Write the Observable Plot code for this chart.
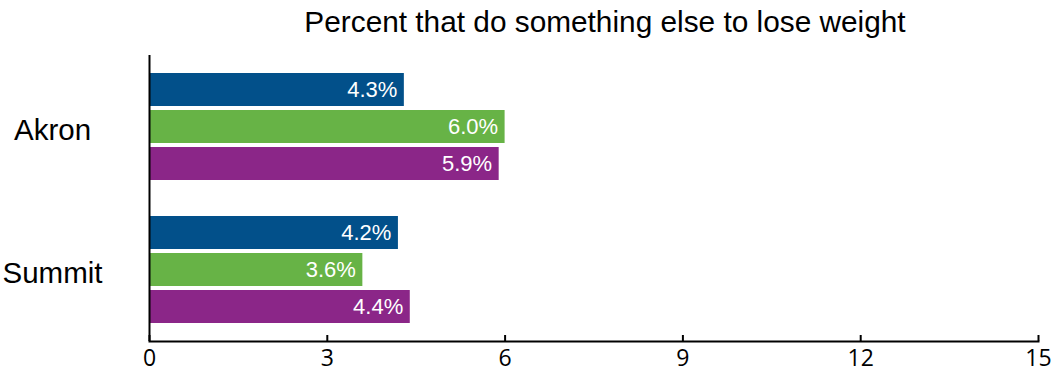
<!DOCTYPE html>
<html>
<head>
<meta charset="utf-8">
<script src="https://cdn.jsdelivr.net/npm/d3@7"></script>
<script src="https://cdn.jsdelivr.net/npm/@observablehq/plot@0.6"></script>
<style>
  body { margin: 0; background: #fff; }
  #title { width: 1057px; box-sizing: border-box; padding-left: 153px; text-align: center;
           font-family: "Liberation Sans", Arial, sans-serif; font-size: 29.8px; line-height: 34px;
           padding-top: 5px; height: 39px; color: #000; }
</style>
</head>
<body>
<div id="title">Percent that do something else to lose weight</div>
<div id="chart"></div>
<script>
const locations = ["Akron", "Summit"];
const series = ["Series 1", "Series 2", "Series 3"];
const akronValues = [4.3, 6.0, 5.9];
const summitValues = [4.2, 3.6, 4.4];
const xTicks = [0, 3, 6, 9, 12, 15];
const colors = ["#02508a", "#67b346", "#8b2688"];

const valuesByLocation = [akronValues, summitValues];
const data = locations.flatMap((loc, i) =>
  series.map((s, j) => ({location: loc, series: s, value: valuesByLocation[i][j]}))
);

const chart = Plot.plot({
  width: 1057,
  height: 335,
  marginTop: 16,
  marginBottom: 33,
  marginLeft: 149,
  marginRight: 19,
  style: {fontFamily: "'Liberation Sans', Arial, sans-serif", background: "#fff"},
  x: {domain: [0, 15], axis: null},
  y: {domain: series, paddingInner: 0.1, paddingOuter: 0.445, axis: null},
  fy: {domain: locations, padding: 0, axis: null},
  color: {domain: series, range: colors},
  marks: [
    Plot.barX(data, {x: "value", y: "series", fy: "location", fill: "series"}),
    Plot.text(data, {x: "value", y: "series", fy: "location", text: d => d.value.toFixed(1) + "%",
      textAnchor: "end", dx: -7, fill: "white", fontSize: 22}),
    Plot.text(locations, {fy: d => d, text: d => d, frameAnchor: "left", dx: -97, dy: 4,
      textAnchor: "middle", fontSize: 29.5, fill: "black"}),
    Plot.ruleX([0], {stroke: "black", strokeWidth: 2}),
    Plot.frame({anchor: "bottom", facetAnchor: "bottom", stroke: "black", strokeWidth: 2}),
    Plot.axisX(xTicks, {anchor: "bottom", tickSize: 6, dy: -6, text: null, label: null, stroke: "black", strokeWidth: 2}),
    Plot.axisX(xTicks, {anchor: "bottom", tickSize: 0, tickPadding: 8, fontSize: 23,
      fontFamily: "'Open Sans', sans-serif", fill: "black", label: null})
  ]
});
document.getElementById("chart").appendChild(chart);
</script>
</body>
</html>
